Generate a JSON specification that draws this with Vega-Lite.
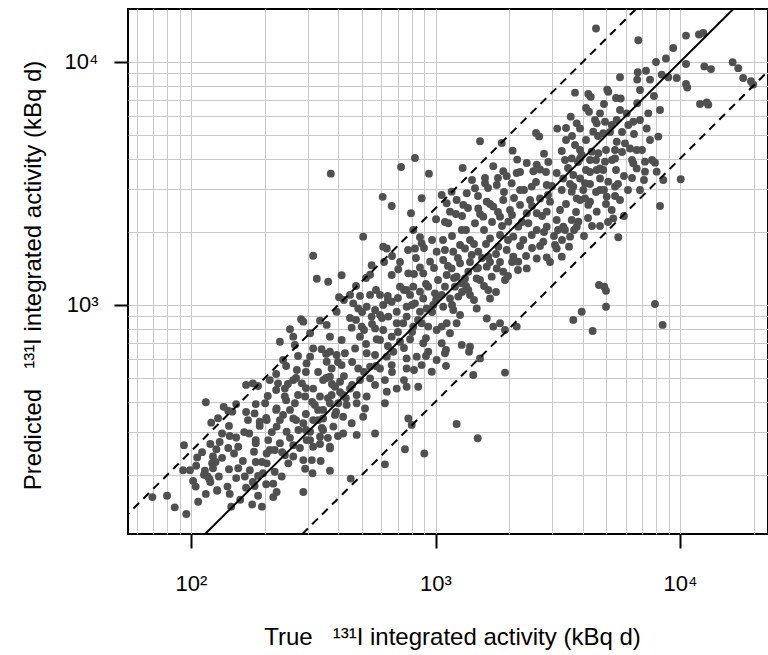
{
  "$schema": "https://vega.github.io/schema/vega-lite/v6.json",
  "autosize": "none",
  "padding": {"left": 128, "top": 9, "right": 0, "bottom": 121},
  "width": 640,
  "height": 525,
  "config": {
    "font": "Liberation Sans",
    "view": {"stroke": "black", "strokeWidth": 2},
    "axis": {
      "grid": true,
      "gridColor": "#c8c8c8",
      "gridWidth": 1,
      "domain": false,
      "tickSize": 14,
      "tickWidth": 2,
      "tickColor": "black",
      "tickOpacity": {"condition": {"test": "datum.value == 100 || datum.value == 1000 || datum.value == 10000", "value": 1}, "value": 0},
      "labelExpr": "datum.value == 100 ? '10²' : datum.value == 1000 ? '10³' : datum.value == 10000 ? '10⁴' : ''",
      "labelFontSize": 22,
      "labelColor": "black",
      "labelOverlap": false,
      "titleFontSize": 24,
      "titleFontWeight": "normal",
      "titleColor": "black",
      "titleAlign": "center",
      "titleBaseline": "middle"
    }
  },
  "layer": [
    {
      "data": {"values": [
        {"actual":69.5,"pred":162},{"actual":79.8,"pred":164},{"actual":85.8,"pred":147},{"actual":95.7,"pred":138},{"actual":93.6,"pred":265},{"actual":92.8,"pred":209},{"actual":106,"pred":236},{"actual":115,"pred":398},{"actual":102,"pred":189},{"actual":104.5,"pred":179},{"actual":114,"pred":208},{"actual":117,"pred":197},{"actual":120,"pred":187},{"actual":113,"pred":200},{"actual":119,"pred":192},{"actual":123,"pred":213},{"actual":128,"pred":173},{"actual":130,"pred":197},{"actual":121,"pred":328},{"actual":129,"pred":342},{"actual":136,"pred":381},{"actual":142,"pred":367},{"actual":147.5,"pred":364},{"actual":143,"pred":318},{"actual":134,"pred":296},{"actual":131,"pred":273},{"actual":127,"pred":255},{"actual":123,"pred":238},{"actual":126,"pred":226},{"actual":122,"pred":223},{"actual":144,"pred":289},{"actual":153,"pred":285},{"actual":156,"pred":261},{"actual":150,"pred":245},{"actual":163,"pred":228},{"actual":156,"pred":213},{"actual":143,"pred":211},{"actual":166,"pred":197},{"actual":141,"pred":179},{"actual":128,"pred":172},{"actual":146,"pred":148},{"actual":173,"pred":296},{"actual":171,"pred":336},{"actual":182,"pred":358},{"actual":184,"pred":270},{"actual":181,"pred":249},{"actual":184,"pred":226},{"actual":179,"pred":187},{"actual":182,"pred":180},{"actual":178,"pred":151},{"actual":168,"pred":469},{"actual":179,"pred":476},{"actual":188,"pred":464},{"actual":191,"pred":331},
        {"actual":364,"pred":1247},{"actual":403,"pred":1077},{"actual":447,"pred":1100},{"actual":491,"pred":1090},{"actual":540,"pred":1100},{"actual":593,"pred":1100},{"actual":638,"pred":1090},{"actual":716,"pred":1190},{"actual":762,"pred":1153},{"actual":811,"pred":1190},{"actual":864,"pred":1135},{"actual":934,"pred":1190},{"actual":995,"pred":1117},{"actual":787,"pred":1100},{"actual":891,"pred":1064},
        {"actual":394,"pred":938},{"actual":461,"pred":1016},{"actual":483,"pred":967},{"actual":523,"pred":984},{"actual":566,"pred":954},{"actual":611,"pred":1000},{"actual":662,"pred":1031},{"actual":694,"pred":938},{"actual":762,"pred":984},{"actual":824,"pred":1016},{"actual":864,"pred":938},{"actual":920,"pred":967},{"actual":979,"pred":1000},{"actual":548,"pred":896},{"actual":593,"pred":910},{"actual":641,"pred":896},{"actual":762,"pred":896},{"actual":282,"pred":874},{"actual":288,"pred":854},
        {"actual":254,"pred":795},{"actual":337,"pred":862},{"actual":359,"pred":828},{"actual":454,"pred":807},{"actual":499,"pred":815},{"actual":566,"pred":801},{"actual":611,"pred":789},{"actual":694,"pred":841},{"actual":738,"pred":841},{"actual":811,"pred":815},{"actual":878,"pred":841},{"actual":934,"pred":815},{"actual":1011,"pred":789},{"actual":307,"pred":765},{"actual":262,"pred":741},{"actual":231,"pred":706},{"actual":266,"pred":685},{"actual":370,"pred":741},{"actual":413,"pred":718},{"actual":491,"pred":741},{"actual":575,"pred":723},{"actual":662,"pred":741},{"actual":787,"pred":723},{"actual":891,"pred":696},{"actual":716,"pred":706},
        {"actual":316,"pred":662},{"actual":342,"pred":658},{"actual":370,"pred":642},{"actual":394,"pred":623},{"actual":426,"pred":633},{"actual":469,"pred":662},{"actual":523,"pred":633},{"actual":566,"pred":623},{"actual":632,"pred":613},{"actual":672,"pred":642},{"actual":762,"pred":603},{"actual":838,"pred":613},{"actual":934,"pred":642},{"actual":1011,"pred":594},{"actual":307,"pred":613},{"actual":297,"pred":575},{"actual":359,"pred":584},{"actual":376,"pred":548},{"actual":413,"pred":566},{"actual":483,"pred":548},{"actual":540,"pred":558},{"actual":593,"pred":548},{"actual":662,"pred":566},{"actual":762,"pred":548},{"actual":878,"pred":566},{"actual":238,"pred":594},{"actual":271,"pred":540},
        {"actual":210,"pred":491},{"actual":227,"pred":476},{"actual":242,"pred":453},{"actual":262,"pred":491},{"actual":284,"pred":476},{"actual":316,"pred":453},{"actual":347,"pred":491},{"actual":370,"pred":507},{"actual":388,"pred":461},{"actual":407,"pred":483},{"actual":447,"pred":453},{"actual":491,"pred":491},{"actual":540,"pred":499},{"actual":566,"pred":469},{"actual":621,"pred":491},{"actual":694,"pred":453},{"actual":762,"pred":461},{"actual":850,"pred":461},{"actual":632,"pred":440},{"actual":293,"pred":420},{"actual":337,"pred":420},{"actual":376,"pred":426},{"actual":419,"pred":426},{"actual":476,"pred":426},{"actual":523,"pred":420},{"actual":242,"pred":420},{"actual":201,"pred":394},
        {"actual":224,"pred":375},{"actual":266,"pred":394},{"actual":321,"pred":388},{"actual":347,"pred":370},{"actual":370,"pred":394},{"actual":400,"pred":394},{"actual":433,"pred":388},{"actual":476,"pred":394},{"actual":515,"pred":375},{"actual":621,"pred":394},{"actual":238,"pred":353},{"actual":262,"pred":341},{"actual":288,"pred":326},{"actual":316,"pred":336},{"actual":347,"pred":341},{"actual":388,"pred":353},{"actual":419,"pred":347},{"actual":454,"pred":326},{"actual":506,"pred":347},{"actual":774,"pred":341},{"actual":204,"pred":336},{"actual":224,"pred":316},
        {"actual":246,"pred":301},{"actual":275,"pred":306},{"actual":307,"pred":301},{"actual":347,"pred":306},{"actual":382,"pred":316},{"actual":419,"pred":296},{"actual":476,"pred":292},{"actual":566,"pred":296},{"actual":799,"pred":321},{"actual":207,"pred":278},{"actual":231,"pred":270},{"actual":262,"pred":265},{"actual":297,"pred":278},{"actual":337,"pred":287},{"actual":370,"pred":261},{"actual":316,"pred":261},
        {"actual":204,"pred":245},{"actual":220,"pred":253},{"actual":242,"pred":241},{"actual":262,"pred":238},{"actual":250,"pred":223},{"actual":220,"pred":206},{"actual":235,"pred":197},{"actual":217,"pred":184},{"actual":224,"pred":170},{"actual":217,"pred":162},{"actual":195,"pred":148},{"actual":288,"pred":230},{"actual":312,"pred":230},{"actual":339,"pred":228},{"actual":293,"pred":212},{"actual":314,"pred":203},{"actual":370,"pred":208},{"actual":288,"pred":170},{"actual":450,"pred":193},{"actual":621,"pred":221},{"actual":204,"pred":223},{"actual":197,"pred":203},{"actual":750,"pred":255},{"actual":900,"pred":245},{"actual":370,"pred":257},{"actual":337,"pred":268},
        {"actual":1093,"pred":633},{"actual":1104,"pred":653},{"actual":1371,"pred":642},{"actual":1521,"pred":603},{"actual":1104,"pred":562},{"actual":1427,"pred":515},{"actual":1924,"pred":527},{"actual":965,"pred":531},{"actual":1220,"pred":324},{"actual":1488,"pred":283},
        {"actual":608,"pred":2787},{"actual":662,"pred":2556},{"actual":794,"pred":2384},{"actual":878,"pred":2751},{"actual":1060,"pred":2837},{"actual":1164,"pred":2926},{"actual":1342,"pred":2882},{"actual":1450,"pred":3024},{"actual":1594,"pred":3168},{"actual":1780,"pred":3119},{"actual":2049,"pred":3168},{"actual":2217,"pred":2974},{"actual":2475,"pred":3070},{"actual":2850,"pred":3119},{"actual":1111,"pred":2621},{"actual":1220,"pred":2705},{"actual":1146,"pred":2421},{"actual":1299,"pred":2581},{"actual":1496,"pred":2497},{"actual":1620,"pred":2662},{"actual":1723,"pred":2540},{"actual":1893,"pred":2705},{"actual":2017,"pred":2460},{"actual":2217,"pred":2581},{"actual":2436,"pred":2705},{"actual":2676,"pred":2745},{"actual":2940,"pred":2662},{"actual":2361,"pred":2384},{"actual":2594,"pred":2384},{"actual":2850,"pred":2421},
        {"actual":1005,"pred":2253},{"actual":1128,"pred":2169},{"actual":1280,"pred":2035},{"actual":1450,"pred":2169},{"actual":1568,"pred":2310},{"actual":1836,"pred":2310},{"actual":1985,"pred":2202},{"actual":2180,"pred":2101},{"actual":2397,"pred":2169},{"actual":2594,"pred":2035},{"actual":2850,"pred":2101},{"actual":3131,"pred":2238},{"actual":811,"pred":2035},{"actual":864,"pred":1901},{"actual":1384,"pred":1851},{"actual":1671,"pred":1878},{"actual":1836,"pred":1941},{"actual":2080,"pred":1911},{"actual":2286,"pred":1851},{"actual":2475,"pred":1941},{"actual":2759,"pred":1821},{"actual":3081,"pred":1766},{"actual":1260,"pred":1766},
        {"actual":611,"pred":1738},{"actual":632,"pred":1708},{"actual":824,"pred":1708},{"actual":878,"pred":1794},{"actual":1011,"pred":1657},{"actual":1093,"pred":1684},{"actual":1182,"pred":1657},{"actual":1320,"pred":1708},{"actual":1406,"pred":1607},{"actual":1496,"pred":1657},{"actual":1644,"pred":1581},{"actual":1806,"pred":1738},{"actual":1955,"pred":1684},{"actual":2080,"pred":1581},{"actual":2180,"pred":1508},{"actual":2361,"pred":1414},{"actual":2594,"pred":1554},{"actual":2850,"pred":1571},{"actual":3131,"pred":1708},
        {"actual":662,"pred":1329},{"actual":704,"pred":1403},{"actual":774,"pred":1350},{"actual":864,"pred":1426},{"actual":891,"pred":1350},{"actual":950,"pred":1508},{"actual":1075,"pred":1532},{"actual":1164,"pred":1414},{"actual":1260,"pred":1484},{"actual":1362,"pred":1371},{"actual":1474,"pred":1414},{"actual":1620,"pred":1438},{"actual":1780,"pred":1414},{"actual":1893,"pred":1371},{"actual":1111,"pred":1329},{"actual":1220,"pred":1308},{"actual":1320,"pred":1286},{"actual":1521,"pred":1267},{"actual":1698,"pred":1308},{"actual":1924,"pred":1267},
        {"actual":1093,"pred":1190},{"actual":1201,"pred":1190},{"actual":1280,"pred":1228},{"actual":1362,"pred":1153},{"actual":1474,"pred":1286},{"actual":1644,"pred":1153},{"actual":1671,"pred":1064},{"actual":1060,"pred":1100},{"actual":1146,"pred":1064},{"actual":1239,"pred":1083},{"actual":1384,"pred":1100},{"actual":1474,"pred":967},{"actual":1075,"pred":984},{"actual":1182,"pred":954},{"actual":1260,"pred":910},{"actual":1220,"pred":841},{"actual":1111,"pred":841},{"actual":1146,"pred":765},{"actual":1060,"pred":815},{"actual":1060,"pred":696},{"actual":1280,"pred":685},{"actual":1384,"pred":674},{"actual":1620,"pred":880},{"actual":1723,"pred":815},{"actual":1836,"pred":841},{"actual":1924,"pred":789},{"actual":2148,"pred":815},
        {"actual":373,"pred":3472},{"actual":723,"pred":3699},{"actual":824,"pred":4027},{"actual":940,"pred":3472},{"actual":506,"pred":1911},{"actual":316,"pred":1595},{"actual":327,"pred":1283},{"actual":413,"pred":1325},{"actual":540,"pred":1332},{"actual":548,"pred":1457},
        {"actual":4533,"pred":13728},{"actual":5038,"pred":7697},{"actual":1521,"pred":4717},{"actual":1865,"pred":4641},{"actual":2577,"pred":5104},{"actual":2653,"pred":4941},{"actual":2067,"pred":4315},{"actual":1291,"pred":3663},{"actual":1723,"pred":3727},{"actual":1893,"pred":3551},{"actual":2158,"pred":3966},{"actual":2361,"pred":3841},{"actual":2594,"pred":3782},{"actual":2778,"pred":4196},{"actual":2893,"pred":3877},{"actual":3146,"pred":5321},{"actual":2148,"pred":3493},{"actual":2512,"pred":3551},{"actual":2676,"pred":3612},{"actual":3131,"pred":3493},{"actual":1594,"pred":3332},{"actual":1801,"pred":3332},{"actual":1955,"pred":3389},
        {"actual":3720,"pred":7477},{"actual":4216,"pred":7385},{"actual":4313,"pred":7186},{"actual":5089,"pred":7546},{"actual":5720,"pred":7079},{"actual":6683,"pred":6760},{"actual":4243,"pred":6243},{"actual":4708,"pred":6148},{"actual":5683,"pred":6345},{"actual":6052,"pred":6148},{"actual":7417,"pred":6148},{"actual":8283,"pred":6345},{"actual":3573,"pred":5958},{"actual":3781,"pred":5592},{"actual":3900,"pred":5327},{"actual":4491,"pred":5771},{"actual":4564,"pred":5592},{"actual":4934,"pred":5679},{"actual":5256,"pred":5506},{"actual":5509,"pred":5771},{"actual":6143,"pred":5506},{"actual":6439,"pred":5679},{"actual":7307,"pred":5327},{"actual":4418,"pred":5167},{"actual":4854,"pred":5088},{"actual":8149,"pred":4931},
        {"actual":3418,"pred":4775},{"actual":3283,"pred":4303},{"actual":3720,"pred":4555},{"actual":3900,"pred":4344},{"actual":3962,"pred":4144},{"actual":4354,"pred":4275},{"actual":4632,"pred":4209},{"actual":5509,"pred":4699},{"actual":5421,"pred":4344},{"actual":5956,"pred":4627},{"actual":6245,"pred":4407},{"actual":6651,"pred":4344},{"actual":5421,"pred":4010},{"actual":3386,"pred":3952},{"actual":3607,"pred":4010},{"actual":3900,"pred":4010},{"actual":4285,"pred":3952},{"actual":4934,"pred":3889},{"actual":4708,"pred":3648},{"actual":4564,"pred":3594},{"actual":4854,"pred":3594},{"actual":6439,"pred":3829},{"actual":6651,"pred":3648},{"actual":7190,"pred":3889},{"actual":7900,"pred":3853},{"actual":7190,"pred":3537},{"actual":8028,"pred":3537},{"actual":8540,"pred":3269},{"actual":8283,"pred":2556},
        {"actual":3660,"pred":3429},{"actual":3900,"pred":3317},{"actual":4708,"pred":3317},{"actual":5089,"pred":3217},{"actual":5421,"pred":3070},{"actual":4087,"pred":3168},{"actual":3660,"pred":3070},{"actual":4021,"pred":2974},{"actual":3331,"pred":3317},{"actual":3283,"pred":2974},{"actual":3607,"pred":2926},{"actual":3781,"pred":2745},{"actual":4087,"pred":2745},{"actual":4285,"pred":2662},{"actual":4564,"pred":2421},{"actual":4216,"pred":2581},{"actual":4708,"pred":2974},{"actual":5014,"pred":2793},{"actual":5421,"pred":2810},{"actual":5256,"pred":2460},{"actual":5333,"pred":2271},{"actual":3607,"pred":2238},{"actual":3838,"pred":2202},{"actual":3781,"pred":2101},{"actual":3331,"pred":2101},{"actual":3550,"pred":1911},{"actual":3386,"pred":2035},{"actual":3515,"pred":1738},{"actual":5592,"pred":1901},{"actual":3283,"pred":1581},
        {"actual":6751,"pred":12280},{"actual":10580,"pred":12840},{"actual":11950,"pred":12970},{"actual":12450,"pred":13170},{"actual":9380,"pred":11420},{"actual":8760,"pred":10330},{"actual":7975,"pred":10000},{"actual":10580,"pred":9810},{"actual":12570,"pred":9590},{"actual":13390,"pred":9350},{"actual":16410,"pred":9970},{"actual":17310,"pred":9430},{"actual":18130,"pred":8590},{"actual":19510,"pred":8330},{"actual":19920,"pred":8070},{"actual":6713,"pred":9075},{"actual":7259,"pred":9205},{"actual":6683,"pred":8463},{"actual":7538,"pred":8463},{"actual":8416,"pred":8871},{"actual":8954,"pred":8658},{"actual":9691,"pred":8593},{"actual":5683,"pred":8658},{"actual":10580,"pred":8119},{"actual":10700,"pred":7849},{"actual":12071,"pred":6718},{"actual":12856,"pred":6822},{"actual":13049,"pred":6676},
        {"actual":10066,"pred":3292},{"actual":4662,"pred":1209},{"actual":4901,"pred":1190},{"actual":4981,"pred":1145},{"actual":4981,"pred":984},{"actual":3962,"pred":938},{"actual":3660,"pred":868},{"actual":4392,"pred":782},{"actual":7900,"pred":1009},{"actual":8490,"pred":828},
        {"actual":331,"pred":530},{"actual":357,"pred":501},{"actual":377,"pred":473},{"actual":407,"pred":438},{"actual":363,"pred":414},{"actual":331,"pred":370},{"actual":392,"pred":363},{"actual":430,"pred":414},{"actual":456,"pred":469},{"actual":422,"pred":510},{"actual":357,"pred":629},{"actual":399,"pred":583},{"actual":313,"pred":399},{"actual":295,"pred":356},{"actual":343,"pred":312},{"actual":399,"pred":289},{"actual":274,"pred":426},{"actual":254,"pred":370},{"actual":231,"pred":336},{"actual":214,"pred":300},{"actual":254,"pred":284},{"actual":279,"pred":258},{"actual":236,"pred":248},{"actual":307,"pred":278},
        {"actual":473,"pred":868},{"actual":510,"pred":789},{"actual":550,"pred":836},{"actual":593,"pred":718},{"actual":639,"pred":678},{"actual":702,"pred":774},{"actual":743,"pred":665},{"actual":802,"pred":774},{"actual":848,"pred":868},{"actual":914,"pred":731},{"actual":968,"pred":936},{"actual":802,"pred":1000},{"actual":702,"pred":1069},{"actual":604,"pred":884},{"actual":520,"pred":691},{"actual":456,"pred":583},{"actual":510,"pred":530},{"actual":571,"pred":561},{"actual":664,"pred":530},{"actual":743,"pred":491},{"actual":817,"pred":540},{"actual":914,"pred":617},
        {"actual":1073,"pred":1851},{"actual":1168,"pred":1923},{"actual":1333,"pred":2035},{"actual":1437,"pred":1783},{"actual":1579,"pred":2035},{"actual":1703,"pred":2196},{"actual":1871,"pred":2115},{"actual":2055,"pred":2347},{"actual":2259,"pred":2196},{"actual":2482,"pred":2556},{"actual":2727,"pred":2325},{"actual":2885,"pred":2837},{"actual":1235,"pred":1561},{"actual":1384,"pred":1503},{"actual":1550,"pred":1561},{"actual":1768,"pred":1622},{"actual":1979,"pred":1851},{"actual":2217,"pred":1749},{"actual":2482,"pred":1716},{"actual":2778,"pred":1996},{"actual":3052,"pred":1923},{"actual":1124,"pred":1448},{"actual":1284,"pred":1131},{"actual":1437,"pred":1048},{"actual":1579,"pred":1197},{"actual":1768,"pred":1131},{"actual":1979,"pred":1316},{"actual":2174,"pred":1393},{"actual":1609,"pred":1783},{"actual":1801,"pred":2413},{"actual":1492,"pred":2810},{"actual":1284,"pred":2325},{"actual":1024,"pred":1267},{"actual":1005,"pred":1048},{"actual":1168,"pred":1000},
        {"actual":3418,"pred":5350},{"actual":3617,"pred":4962},{"actual":4126,"pred":4775},{"actual":4619,"pred":4962},{"actual":5173,"pred":5151},{"actual":5791,"pred":5151},{"actual":6482,"pred":5057},{"actual":4285,"pred":3526},{"actual":5473,"pred":3594},{"actual":5899,"pred":3396},{"actual":3900,"pred":2705},{"actual":4534,"pred":2917},{"actual":4981,"pred":2605},{"actual":5683,"pred":2705},{"actual":6126,"pred":2974},{"actual":6861,"pred":2974},{"actual":3418,"pred":2605},{"actual":3756,"pred":2413},{"actual":4204,"pred":2280},{"actual":4708,"pred":2115},{"actual":3292,"pred":1851},{"actual":4048,"pred":1923},{"actual":7538,"pred":4775},{"actual":6861,"pred":5771},
        {"actual":105,"pred":218},{"actual":111,"pred":248},{"actual":120,"pred":268},{"actual":134,"pred":235},{"actual":142,"pred":258},{"actual":153,"pred":194},{"actual":168,"pred":177},{"actual":174,"pred":209},{"actual":188,"pred":198},{"actual":144,"pred":167},{"actual":159,"pred":158},{"actual":115,"pred":167},{"actual":107,"pred":155},{"actual":195,"pred":226},{"actual":188,"pred":164},{"actual":203,"pred":183},{"actual":99,"pred":209},
        {"actual":206,"pred":422},{"actual":223,"pred":447},{"actual":249,"pred":473},{"actual":269,"pred":501},{"actual":295,"pred":530},{"actual":274,"pred":617},{"actual":245,"pred":561},{"actual":223,"pred":520},{"actual":295,"pred":455},
        {"actual":422,"pred":1048},{"actual":473,"pred":1197},{"actual":520,"pred":1291},{"actual":616,"pred":1503},{"actual":664,"pred":1591},{"actual":716,"pred":1503},{"actual":772,"pred":1684},{"actual":832,"pred":1561},{"actual":897,"pred":1716},{"actual":968,"pred":1851},{"actual":743,"pred":1153},{"actual":817,"pred":1341},{"actual":914,"pred":1220},{"actual":986,"pred":1420},{"actual":639,"pred":1048},{"actual":571,"pred":1153},{"actual":501,"pred":936},{"actual":447,"pred":884},
        {"actual":1093,"pred":2196},{"actual":1212,"pred":2369},{"actual":1358,"pred":2508},{"actual":1521,"pred":2369},{"actual":1671,"pred":2605},{"actual":1906,"pred":2917},{"actual":2094,"pred":2757},{"actual":2301,"pred":2974},{"actual":2577,"pred":3207},{"actual":2831,"pred":3526},{"actual":2996,"pred":3089},{"actual":1410,"pred":3269},{"actual":1640,"pred":3030},{"actual":2217,"pred":3526},{"actual":1190,"pred":1291},{"actual":1333,"pred":1197},{"actual":1492,"pred":1420},{"actual":1671,"pred":1503},{"actual":1836,"pred":1503},{"actual":2055,"pred":1503},{"actual":2346,"pred":1591},{"actual":2676,"pred":1749},{"actual":2940,"pred":1503},{"actual":3169,"pred":2035},
        {"actual":3483,"pred":3664},{"actual":3827,"pred":3877},{"actual":4126,"pred":3594},{"actual":4534,"pred":3952},{"actual":4981,"pred":4344},{"actual":5271,"pred":3952},{"actual":5791,"pred":4262},{"actual":6364,"pred":3952},{"actual":6991,"pred":4344},{"actual":7681,"pred":3952},{"actual":3550,"pred":3148},{"actual":4285,"pred":3148},{"actual":4887,"pred":2974},{"actual":5576,"pred":3148},{"actual":6364,"pred":3332},{"actual":7122,"pred":3269},{"actual":3685,"pred":2035},{"actual":4366,"pred":2115},{"actual":5075,"pred":2196},{"actual":5899,"pred":2325},{"actual":3231,"pred":2460},{"actual":4126,"pred":6467},{"actual":4887,"pred":6718},{"actual":5473,"pred":7109},{"actual":6861,"pred":7669},{"actual":7824,"pred":7247},
        {"actual":153,"pred":391},{"actual":168,"pred":363},{"actual":184,"pred":391},{"actual":203,"pred":343},{"actual":223,"pred":370},{"actual":245,"pred":406},{"actual":269,"pred":336},{"actual":295,"pred":306},{"actual":331,"pred":336},{"actual":363,"pred":284},{"actual":165,"pred":300},{"actual":184,"pred":278},{"actual":210,"pred":253},{"actual":191,"pred":318}
      ]},
      "mark": {"type": "circle", "size": 62, "color": "#505050", "opacity": 1},
      "encoding": {
        "x": {
          "field": "actual", "type": "quantitative",
          "scale": {"type": "log", "domain": [55.25, 22900], "nice": false},
          "axis": {
            "title": "True\u00a0\u00a0\u00a0¹³¹I integrated activity (kBq d)",
            "values": [60,70,80,90,100,200,300,400,500,600,700,800,900,1000,2000,3000,4000,5000,6000,7000,8000,9000,10000,20000],
            "labelPadding": 25,
            "titleX": 324,
            "titleY": 103
          }
        },
        "y": {
          "field": "pred", "type": "quantitative",
          "scale": {"type": "log", "domain": [114.2, 16520], "nice": false},
          "axis": {
            "title": "Predicted\u00a0\u00a0\u00a0¹³¹I integrated activity (kBq d)",
            "values": [200,300,400,500,600,700,800,900,1000,2000,3000,4000,5000,6000,7000,8000,9000,10000],
            "labelAngle": 0,
            "labelPadding": 16,
            "titleAngle": -90,
            "titleX": -95,
            "titleY": 266
          }
        }
      }
    },
    {
      "data": {"values": [
        {"actual": 40, "pred": 40, "line": "identity"},
        {"actual": 40000, "pred": 40000, "line": "identity"}
      ]},
      "mark": {"type": "line", "color": "black", "strokeWidth": 2, "clip": true},
      "encoding": {
        "x": {"field": "actual", "type": "quantitative"},
        "y": {"field": "pred", "type": "quantitative"},
        "detail": {"field": "line"}
      }
    },
    {
      "data": {"values": [
        {"actual": 40, "pred": 100, "line": "upper"},
        {"actual": 40000, "pred": 100000, "line": "upper"},
        {"actual": 40, "pred": 16, "line": "lower"},
        {"actual": 40000, "pred": 16000, "line": "lower"}
      ]},
      "mark": {"type": "line", "color": "black", "strokeWidth": 2, "strokeDash": [8, 6], "clip": true},
      "encoding": {
        "x": {"field": "actual", "type": "quantitative"},
        "y": {"field": "pred", "type": "quantitative"},
        "detail": {"field": "line"}
      }
    }
  ]
}
